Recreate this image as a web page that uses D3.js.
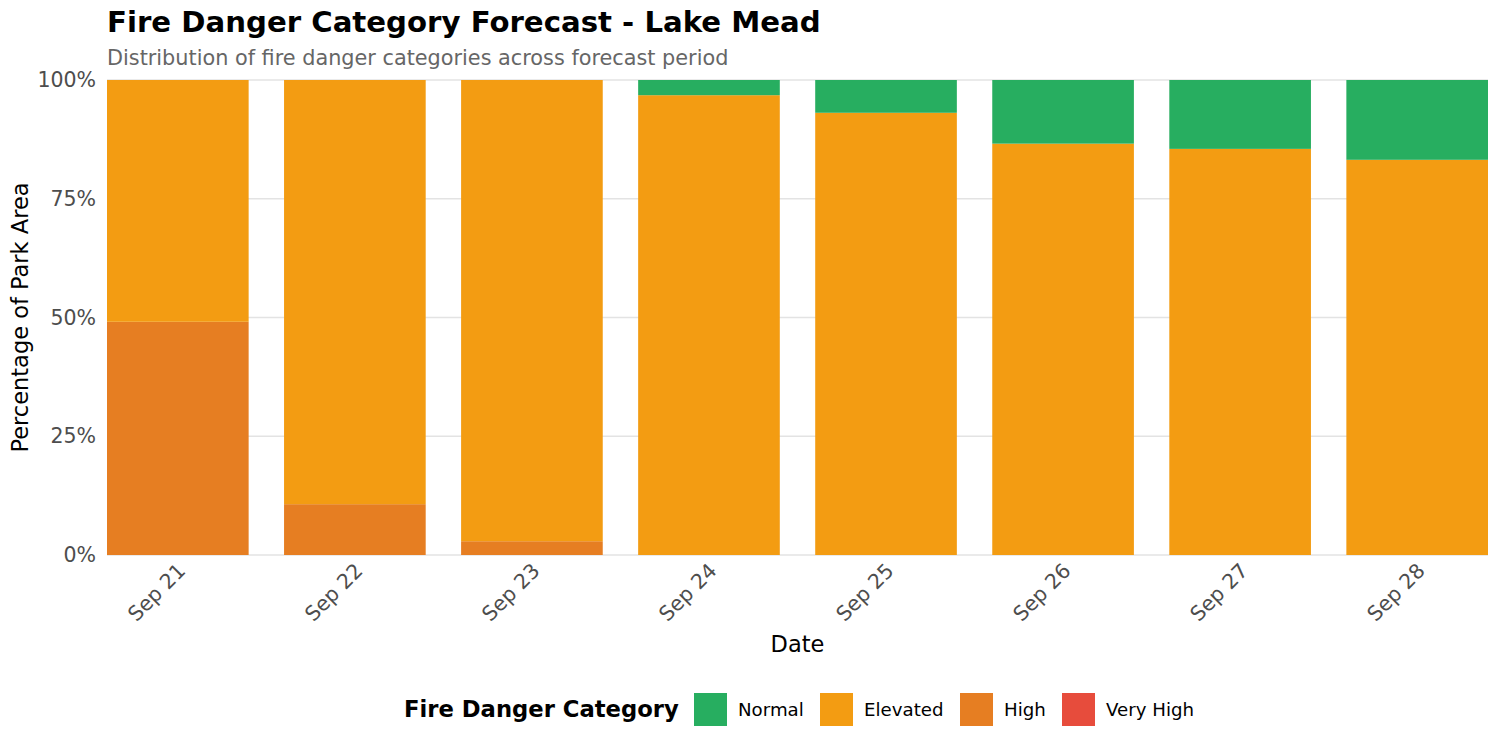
<!DOCTYPE html>
<html><head><meta charset="utf-8">
<script src="https://cdn.jsdelivr.net/npm/d3@7"></script>
<style>body{margin:0;background:#fff;} svg{display:block;font-family:"DejaVu Sans",sans-serif;}</style>
</head><body><svg id="c" width="1500" height="750"></svg>
<script>
const dates = ["Sep 21","Sep 22","Sep 23","Sep 24","Sep 25","Sep 26","Sep 27","Sep 28"];
const categories = ["Normal","Elevated","High","Very High"];
const colors = ["#27AE60","#F39C12","#E67E22","#E74C3C"];
const normalPct   = [0, 0, 0, 3.2, 6.9, 13.4, 14.5, 16.8];
const highPct     = [49.1, 10.7, 2.9, 0, 0, 0, 0, 0];
const veryHighPct = [0, 0, 0, 0, 0, 0, 0, 0];
const elevatedPct = [50.9, 89.3, 97.1, 96.8, 93.1, 86.6, 85.5, 83.2];
const yTicks = [0, 25, 50, 75, 100];

const svg = d3.select("#c");
const L = 107, R = 1488, T = 80, B = 555;
const x = d3.scaleBand().domain(dates).range([L, R]).paddingInner(0.2).paddingOuter(0);
const y = d3.scaleLinear().domain([0, 100]).range([B, T]);
const color = d3.scaleOrdinal().domain(categories).range(colors);

// grid
svg.append("g").selectAll("line").data(yTicks).join("line")
  .attr("x1", L).attr("x2", R).attr("y1", d => y(d)).attr("y2", d => y(d))
  .attr("stroke", "#e3e3e3").attr("stroke-width", 1.4);

// stack: bottom Very High, High, Elevated, Normal top
const rows = dates.map((d, i) => ({date: d, "Normal": normalPct[i], "Elevated": elevatedPct[i], "High": highPct[i], "Very High": veryHighPct[i]}));
const stack = d3.stack().keys(["Very High","High","Elevated","Normal"])(rows);
svg.append("g").selectAll("g").data(stack).join("g").attr("fill", s => color(s.key))
  .selectAll("rect").data(s => s).join("rect")
  .attr("x", d => x(d.data.date)).attr("width", x.bandwidth())
  .attr("y", d => y(d[1])).attr("height", d => y(d[0]) - y(d[1]));

// y axis labels
svg.append("g").selectAll("text").data(yTicks).join("text")
  .attr("x", 96).attr("y", d => y(d)).attr("dy", "0.35em").attr("text-anchor", "end")
  .attr("font-size", 20.5).attr("fill", "#4d4d4d").text(d => d + "%");

// x axis labels
svg.append("g").selectAll("text").data(dates).join("text")
  .attr("transform", d => `translate(${x(d) + x.bandwidth()/2 + 9},${572}) rotate(-45)`)
  .attr("text-anchor", "end").attr("font-size", 20.5).attr("fill", "#4d4d4d").text(d => d);

// axis titles
svg.append("text").attr("x", (L + R)/2).attr("y", 652).attr("text-anchor", "middle")
  .attr("font-size", 22.5).attr("fill", "#000").text("Date");
svg.append("text").attr("transform", `translate(28,${(T+B)/2}) rotate(-90)`).attr("text-anchor", "middle")
  .attr("font-size", 22.5).attr("fill", "#000").text("Percentage of Park Area");

// title
svg.append("text").attr("x", L).attr("y", 32).attr("font-size", 29.2).attr("font-weight", "bold")
  .attr("fill", "#000").text("Fire Danger Category Forecast - Lake Mead");
svg.append("text").attr("x", L).attr("y", 65).attr("font-size", 20.8).attr("fill", "#666666")
  .text("Distribution of fire danger categories across forecast period");

// legend
const lg = svg.append("g");
lg.append("text").attr("x", 404).attr("y", 709).attr("dy", "0.35em").attr("font-size", 22.7)
  .attr("font-weight", "bold").text("Fire Danger Category");
const keyX = [694, 820, 960, 1062];
const items = lg.selectAll("g.item").data(categories).join("g").attr("class", "item");
items.append("rect").attr("x", (d, i) => keyX[i]).attr("y", 693).attr("width", 33).attr("height", 33)
  .attr("fill", d => color(d));
items.append("text").attr("x", (d, i) => keyX[i] + 44).attr("y", 710).attr("dy", "0.35em")
  .attr("font-size", 18.2).attr("fill", "#000").text(d => d);
</script></body></html>
